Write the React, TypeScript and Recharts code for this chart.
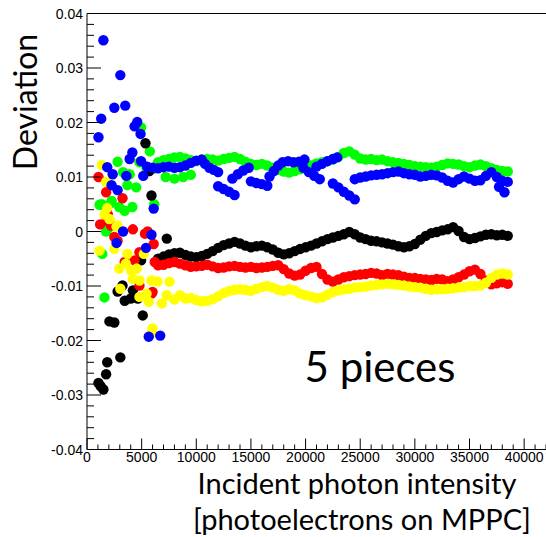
import { ScatterChart, Scatter, XAxis, YAxis, ReferenceLine } from "recharts";

// shared x grid for the dense tracks
const bandX = [
  6500, 7000, 7500, 8000, 8500, 9000, 9500, 10000, 10500, 11000,
  11500, 12000, 12500, 13000, 13500, 14000, 14500, 15000, 15500, 16000,
  16500, 17000, 17500, 18000, 18500, 19000, 19500, 20000, 20500, 21000,
  21500, 22000, 22500, 23000, 23500, 24000, 24500, 25000, 25500, 26000,
  26500, 27000, 27500, 28000, 28500, 29000, 29500, 30000, 30500, 31000,
  31500, 32000, 32500, 33000, 33500, 34000, 34500, 35000, 35500, 36000,
  36500, 37000, 37500, 38000, 38500,
];

const greenBandY = [
  0.0127, 0.0131, 0.0133, 0.0136, 0.0137, 0.0134, 0.0131, 0.0129, 0.0131, 0.0133,
  0.0132, 0.013, 0.0133, 0.0135, 0.0137, 0.0133, 0.0128, 0.0124, 0.0122, 0.0124,
  0.0121, 0.0117, 0.0113, 0.011, 0.0108, 0.0111, 0.0114, 0.0117, 0.0121, 0.0125,
  0.0127, 0.0129, 0.0132, 0.0137, 0.0144, 0.0147, 0.0141, 0.0134, 0.0132, 0.0133,
  0.0131, 0.0132, 0.0129, 0.0127, 0.0126, 0.0124, 0.0122, 0.012, 0.0119, 0.0118,
  0.0117, 0.0119, 0.0122, 0.0125, 0.0124, 0.0123, 0.012, 0.0118, 0.0121, 0.0123,
  0.012, 0.0116, 0.0113, 0.0111, 0.011,
];

const blackBandY = [
  -0.005, -0.0046, -0.0042, -0.004, -0.0039, -0.0043, -0.0046, -0.0047, -0.0045, -0.0041,
  -0.0036, -0.003, -0.0025, -0.0022, -0.0019, -0.0022, -0.0026, -0.0029, -0.0027, -0.0026,
  -0.0029, -0.0033, -0.0039, -0.0042, -0.004, -0.0036, -0.0032, -0.0029, -0.0026, -0.0022,
  -0.0018, -0.0014, -0.0011, -0.0008, -0.0005, -0.0001, -0.0005, -0.0011, -0.0014, -0.0017,
  -0.0018, -0.002, -0.0022, -0.0024, -0.0027, -0.0029, -0.0027, -0.0023, -0.0015, -0.0008,
  -0.0003, -0.0001, 0.0002, 0.0004, 0.0008, 0.0001, -0.001, -0.0014, -0.0012, -0.0009,
  -0.0006, -0.0005, -0.0007, -0.0006, -0.0008,
];

const redBandY = [
  -0.0062, -0.0061, -0.0058, -0.0056, -0.0059, -0.0062, -0.0065, -0.0064, -0.0063, -0.0061,
  -0.0064, -0.0067, -0.0066, -0.0064, -0.0063, -0.0065, -0.0066, -0.0065, -0.0067, -0.0066,
  -0.0065, -0.0063, -0.0062, -0.0069, -0.0077, -0.0081, -0.0079, -0.0072, -0.0067, -0.0065,
  -0.0078, -0.0088, -0.0092, -0.0088, -0.0084, -0.0082, -0.008, -0.0079, -0.0078, -0.0076,
  -0.0077, -0.008, -0.0078, -0.0079, -0.008, -0.0083, -0.0085, -0.0085, -0.0087, -0.0088,
  -0.0089, -0.0087, -0.0088, -0.0091, -0.0088, -0.0084, -0.0079, -0.0073, -0.007, -0.0078,
  -0.009, -0.0097, -0.0095, -0.0093, -0.0096,
];

const yellowBandY = [
  null, null, null, null, null, null, -0.0122, -0.0126, -0.0128, -0.0127,
  -0.0124, -0.0119, -0.0113, -0.0109, -0.0107, -0.0106, -0.0107, -0.0109, -0.0105, -0.0102,
  -0.01, -0.0103, -0.0107, -0.0109, -0.0106, -0.0108, -0.0114, -0.0117, -0.0119, -0.0122,
  -0.0121, -0.0116, -0.0111, -0.0108, -0.0106, -0.0105, -0.0103, -0.0102, -0.0101, -0.0099,
  -0.0098, -0.0097, -0.0096, -0.0097, -0.0098, -0.0099, -0.0101, -0.0102, -0.0103, -0.0105,
  -0.0107, -0.0106, -0.0106, -0.0105, -0.0104, -0.0103, -0.0102, -0.01, -0.01, -0.0099,
  -0.0094, -0.0085, -0.0079, -0.0077, -0.0079,
];

// scattered points at low intensity
const greenEarlyX = [1150, 1350, 1400, 1600, 1750, 1900, 2000, 2200, 2250, 2800, 2950, 3300, 3450, 3700, 3900, 4150, 4500, 4800, 4950, 5450, 5750, 6050, 6150, 7200, 8000, 8800, 9500];
const greenEarlyY = [0.0049, 0.005, -0.0041, -0.0121, 0.0, 0.0005, 0.0022, 0.0052, 0.0056, 0.0128, 0.0045, 0.0109, 0.0038, 0.0085, 0.0105, 0.0045, 0.0081, 0.0127, 0.0191, 0.0115, 0.0147, 0.0115, 0.005, 0.01, 0.0097, 0.01, 0.0104];

const blackEarlyX = [1050, 1250, 1500, 1750, 1850, 2050, 2500, 2800, 3050, 3250, 3450, 4000, 4200, 4650, 4950, 5100, 5350, 5700, 5900, 7300];
const blackEarlyY = [-0.0278, -0.0284, -0.029, -0.0262, -0.024, -0.0165, -0.0167, -0.011, -0.0231, -0.0099, -0.0127, -0.0123, -0.0108, -0.0123, -0.0053, -0.0154, 0.0162, 0.0111, 0.0066, -0.0013];

const redEarlyX = [1050, 1200, 1750, 1800, 1900, 2200, 2500, 2800, 3250, 3450, 4200, 4350, 4800, 4800, 5300, 5550, 6100, 5900, 6000, 6200];
const redEarlyY = [0.01, 0.0013, 0.0072, 0.002, 0.0032, 0.0011, -0.001, -0.0017, 0.0061, -0.0056, 0.0004, -0.0053, -0.0099, -0.0038, -0.0004, 0.0, -0.0023, -0.0114, -0.0111, -0.0056];

const yellowEarlyX = [1150, 1350, 1600, 1750, 1850, 2050, 2500, 2700, 2800, 2950, 3050, 3550, 3700, 4050, 4200, 4550, 4800, 4800, 5200, 5450, 5650, 5900, 5900, 6000, 6450, 6850, 7300, 7550, 8000, 8500, 9000];
const yellowEarlyY = [-0.0035, 0.0122, 0.0031, 0.0091, 0.0043, 0.0023, -0.0032, 0.0009, 0.0011, -0.0068, -0.0105, -0.0059, -0.0041, -0.0072, -0.0087, -0.0068, -0.009, -0.012, -0.0041, -0.0114, -0.0129, -0.009, -0.0187, -0.0178, -0.0092, -0.0132, -0.0117, -0.0092, -0.0125, -0.0117, -0.0123];

const blueEarlyX = [1050, 1300, 1500, 1850, 2250, 2350, 2500, 2700, 2800, 3050, 3300, 3500, 3600, 3900, 4150, 4350, 4600, 4900, 4950, 5150, 5400, 5650, 5900, 6100, 6700];
const blueEarlyY = [0.0173, 0.0207, 0.0351, 0.0118, 0.0085, 0.0105, 0.0227, -0.0021, 0.0076, 0.0287, 0.0, 0.0231, 0.0102, 0.0133, 0.0145, 0.0193, 0.0201, 0.0179, 0.0129, 0.0102, -0.003, -0.0193, -0.0006, 0.0042, -0.0191];

// blue runs in short segments with jumps between them
const blueRunX = [
  5500, 6000, 6500, 7000, 7500, 8000, 8500, 9000, 9500, 10000, 10500,
  10800, 11200, 11600, 12000,
  12000, 12500, 13000, 13500,
  13300, 13800, 14300, 14800,
  15000, 15500, 16000, 16500,
  16700, 17100, 17500,
  17900, 18400, 18900, 19400, 19900,
  19800, 20300, 20800, 21300,
  21000, 21500, 22000, 22500, 22900,
  22500, 23000, 23500, 24000, 24500,
  24500, 25000, 25500, 26000, 26500, 27000, 27500, 28000, 28500, 29000,
  29500, 30000, 30500, 31000, 31500, 32000, 32500, 33000, 33500, 34000,
  34500, 35000, 35500, 36000, 36500, 37000, 37500, 38000, 38500,
  37700, 38200,
];
const blueRunY = [
  0.0119, 0.0117, 0.0116, 0.0118, 0.0119, 0.0117, 0.0118, 0.0121, 0.0126, 0.013, 0.0132,
  0.0124, 0.0117, 0.0113, 0.0109,
  0.0083, 0.0078, 0.0073, 0.0067,
  0.0097, 0.0105, 0.0112, 0.0117,
  0.0092, 0.0089, 0.0087, 0.0084,
  0.0101, 0.0111, 0.0121,
  0.0127, 0.0129, 0.0127, 0.0128, 0.0132,
  0.0117, 0.0109, 0.0102, 0.0096,
  0.0119, 0.0124, 0.0129, 0.0133, 0.0136,
  0.0088, 0.0081, 0.0073, 0.0066, 0.0059,
  0.0096, 0.0099, 0.0101, 0.0103, 0.0104, 0.0105, 0.0107, 0.0109, 0.011, 0.0107,
  0.0105, 0.0104, 0.0101, 0.0102, 0.0104, 0.0103, 0.0099, 0.0093, 0.009, 0.0096,
  0.0101, 0.0097, 0.0093, 0.0094, 0.0102, 0.0109, 0.01, 0.0093, 0.0091,
  0.0082, 0.0072,
];

const xTicks = Array.from({ length: 43 }, (_, i) => i * 1000);
const yTicks = Array.from({ length: 41 }, (_, i) => Math.round((-0.04 + i * 0.002) * 1000) / 1000);

type Pt = { x: number; y: number };

function toPoints(xs: number[], ys: (number | null)[]): Pt[] {
  const out: Pt[] = [];
  xs.forEach((x, i) => {
    const y = ys[i];
    if (y !== null && y !== undefined) out.push({ x, y });
  });
  return out;
}

const green = [...toPoints(greenEarlyX, greenEarlyY), ...toPoints(bandX, greenBandY)];
const black = [...toPoints(blackEarlyX, blackEarlyY), ...toPoints(bandX, blackBandY)];
const red = [...toPoints(redEarlyX, redEarlyY), ...toPoints(bandX, redBandY)];
const yellow = [...toPoints(yellowEarlyX, yellowEarlyY), ...toPoints(bandX, yellowBandY)];
const blue = [...toPoints(blueEarlyX, blueEarlyY), ...toPoints(blueRunX, blueRunY)];

const tickFont = { fontFamily: "'Liberation Sans', Arial, sans-serif", fontSize: 14, fill: "#000" };
const titleFont = "Lato, 'Open Sans', sans-serif";

const dot = (color: string) => (props: any) => (
  <circle cx={props.cx} cy={props.cy} r={5.2} fill={color} />
);

function YTick(props: any) {
  const { x, y, payload } = props;
  const v = payload.value as number;
  const major = Math.round(v * 1000) % 10 === 0;
  return (
    <g>
      <line x1={x} y1={y} x2={x + (major ? 14 : 7)} y2={y} stroke="#000" />
      {major && (
        <text x={x - 4} y={y} dy="0.36em" textAnchor="end" {...tickFont}>
          {v === 0 ? "0" : v.toFixed(2)}
        </text>
      )}
    </g>
  );
}

function XTick(props: any) {
  const { x, y, payload } = props;
  const v = payload.value as number;
  const major = v % 5000 === 0;
  return (
    <g>
      <line x1={x} y1={y} x2={x} y2={y - (major ? 11 : 5)} stroke="#000" />
      {major && v <= 40000 && (
        <text x={x} y={y + 12} textAnchor="middle" {...tickFont}>
          {v}
        </text>
      )}
    </g>
  );
}

export default function App() {
  return (
    <div style={{ position: "absolute", left: 0, top: 0, width: 546, height: 537, background: "#fff" }}>
      <ScatterChart width={546} height={537} margin={{ top: 13.5, right: 0, left: 0, bottom: 0 }}>
        <XAxis
          type="number"
          dataKey="x"
          domain={[0, 42000]}
          ticks={xTicks}
          interval={0}
          height={87.5}
          tickSize={0}
          tickMargin={0}
          tick={<XTick />}
          axisLine={{ stroke: "#000" }}
        />
        <YAxis
          type="number"
          dataKey="y"
          domain={[-0.04, 0.04]}
          ticks={yTicks}
          interval={0}
          width={87}
          tickSize={0}
          tickMargin={0}
          tick={<YTick />}
          axisLine={{ stroke: "#000" }}
        />
        <ReferenceLine y={0.04} stroke="#000" />
        <Scatter data={green} shape={dot("#00ff00")} isAnimationActive={false} />
        <Scatter data={black} shape={dot("#000000")} isAnimationActive={false} />
        <Scatter data={red} shape={dot("#ff0000")} isAnimationActive={false} />
        <Scatter data={yellow} shape={dot("#ffff00")} isAnimationActive={false} />
        <Scatter data={blue} shape={dot("#0000ff")} isAnimationActive={false} />
      </ScatterChart>

      {/* titles drawn over the chart */}
      <svg width={546} height={537} style={{ position: "absolute", left: 0, top: 0, pointerEvents: "none" }}>
        <text transform="translate(37,102) rotate(-90)" textAnchor="middle" fontFamily={titleFont} fontSize={32} fill="#000">
          Deviation
        </text>
        <text x={357} y={494} textAnchor="middle" fontFamily={titleFont} fontSize={29} fill="#000">
          Incident photon intensity
        </text>
        <text x={362} y={530} textAnchor="middle" fontFamily={titleFont} fontSize={29} fill="#000">
          [photoelectrons on MPPC]
        </text>
        <text x={380} y={382} textAnchor="middle" fontFamily={titleFont} fontSize={42} fill="#000">
          5 pieces
        </text>
      </svg>
    </div>
  );
}
